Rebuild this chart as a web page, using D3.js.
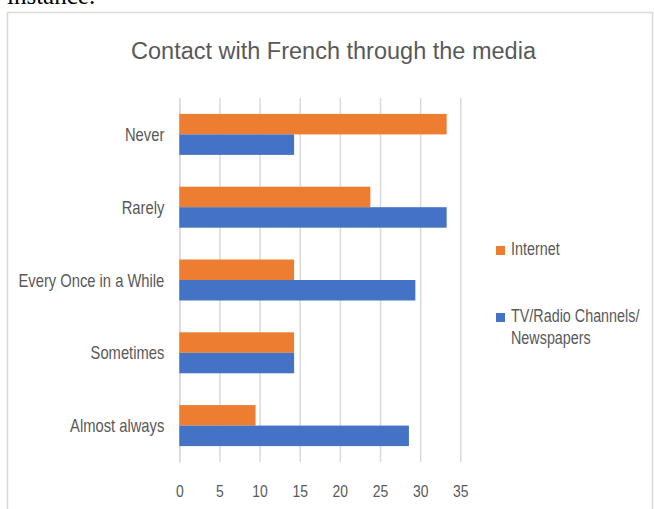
<!DOCTYPE html>
<html>
<head>
<meta charset="utf-8">
<script src="https://cdn.jsdelivr.net/npm/d3@7"></script>
<style>
  html, body { margin: 0; padding: 0; background: #ffffff; }
  svg { display: block; }
</style>
</head>
<body>
<script>
// Survey answers, top to bottom
const categories = ["Never", "Rarely", "Every Once in a While", "Sometimes", "Almost always"];
// Percent of respondents per answer
const internetValues = [33.3, 23.8, 14.3, 14.3, 9.5];
const tvRadioValues = [14.3, 33.3, 29.4, 14.3, 28.6];
const seriesNames = ["Internet", "TV/Radio Channels/Newspapers"];
const legendLines = [["Internet"], ["TV/Radio Channels/", "Newspapers"]];
const xTicks = [0, 5, 10, 15, 20, 25, 30, 35];
const chartTitle = "Contact with French through the media";

const W = 654, H = 509;
const colors = ["#ED7D31", "#4472C4"];
const textColor = "#595959";
const gridColor = "#D9D9D9";
const sans = "'Liberation Sans', Arial, sans-serif";
// Horizontal squeeze that gives the axis and legend labels a narrow face
const narrowScale = 0.82;

const svg = d3.select("body").append("svg")
  .attr("width", W).attr("height", H);

// Tail of the preceding paragraph in the document
svg.append("text")
  .attr("x", 7).attr("y", 4)
  .attr("font-family", "'Liberation Serif', 'Times New Roman', serif")
  .attr("font-size", 25)
  .attr("fill", "#000")
  .text("instance.");

// Chart frame
svg.append("path")
  .attr("d", "M7.5,509 V12.5 H652.5 V509")
  .attr("fill", "none")
  .attr("stroke", gridColor)
  .attr("stroke-width", 1.5);

// Title
svg.append("text")
  .attr("x", 333.5).attr("y", 59)
  .attr("text-anchor", "middle")
  .attr("font-family", sans)
  .attr("font-size", 23.5)
  .attr("fill", textColor)
  .text(chartTitle);

const plot = { left: 179.3, right: 460.3, top: 98, bottom: 462 };

const x = d3.scaleLinear().domain([0, 35]).range([plot.left, plot.right]);
const y = d3.scaleBand().domain(categories)
  .range([plot.top, plot.bottom])
  .paddingInner(0.437).paddingOuter(0.2185);
const ySub = d3.scaleBand().domain(seriesNames).range([0, y.bandwidth()]);

// Vertical gridlines and value labels
const xAxis = d3.axisBottom(x).tickValues(xTicks).tickSize(plot.bottom - plot.top).tickPadding(0);
const gx = svg.append("g")
  .attr("transform", `translate(0,${plot.top})`)
  .call(xAxis);
gx.select(".domain").remove();
gx.selectAll(".tick line")
  .attr("stroke", gridColor)
  .attr("stroke-width", 1.5);
gx.selectAll(".tick text")
  .attr("x", 0).attr("y", 0).attr("dy", 0)
  .attr("transform", `translate(0,${497 - plot.top}) scale(${narrowScale},1)`)
  .attr("font-family", sans)
  .attr("font-size", 17)
  .attr("fill", textColor);

// Category axis line and labels
const yAxis = d3.axisLeft(y).tickSize(0).tickPadding(0);
const gy = svg.append("g")
  .attr("transform", `translate(${plot.left},0)`)
  .call(yAxis);
gy.select(".domain")
  .attr("stroke", gridColor)
  .attr("stroke-width", 1.5);
gy.selectAll(".tick text")
  .attr("x", 0).attr("dy", 0)
  .attr("transform", `translate(-15,6.5) scale(${narrowScale},1)`)
  .attr("font-family", sans)
  .attr("font-size", 18)
  .attr("fill", textColor);

// Bars: each category holds an Internet bar over a TV/Radio bar
const rows = categories.map((c, i) => ({
  category: c,
  values: [internetValues[i], tvRadioValues[i]]
}));

const groups = svg.append("g").selectAll("g")
  .data(rows)
  .join("g")
  .attr("transform", d => `translate(0,${y(d.category)})`);

groups.selectAll("rect")
  .data(d => d.values.map((v, k) => ({ series: seriesNames[k], value: v, k })))
  .join("rect")
  .attr("x", x(0))
  .attr("y", d => ySub(d.series))
  .attr("width", d => x(d.value) - x(0))
  .attr("height", ySub.bandwidth())
  .attr("fill", d => colors[d.k]);

// Legend
const legendBaselines = [255, 322];
const legend = svg.append("g");
legendLines.forEach((lines, k) => {
  const base = legendBaselines[k];
  legend.append("rect")
    .attr("x", 496).attr("y", base - 9)
    .attr("width", 9).attr("height", 9)
    .attr("fill", colors[k]);
  lines.forEach((line, j) => {
    legend.append("text")
      .attr("transform", `translate(511,${base + j * 22}) scale(${narrowScale},1)`)
      .attr("font-family", sans)
      .attr("font-size", 17.5)
      .attr("fill", textColor)
      .text(line);
  });
});
</script>
</body>
</html>
